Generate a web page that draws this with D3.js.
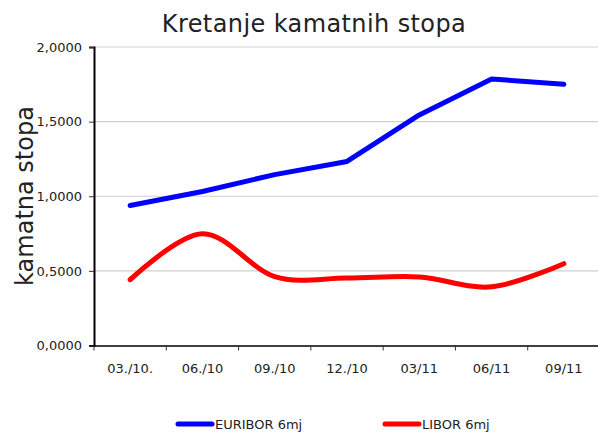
<!DOCTYPE html>
<html>
<head>
<meta charset="utf-8">
<script src="https://cdn.jsdelivr.net/npm/d3@7"></script>
<style>
  body { margin: 0; background: #fff; }
  text { font-family: "DejaVu Sans", sans-serif; fill: #222; }
</style>
</head>
<body>
<script>
const categories = ["03./10.", "06./10", "09./10", "12./10", "03/11", "06/11", "09/11"];
const euribor = [0.938, 1.032, 1.145, 1.233, 1.545, 1.786, 1.750];
const libor = [0.441, 0.749, 0.462, 0.452, 0.459, 0.393, 0.548];
const yTicks = [0, 0.5, 1, 1.5, 2];

const width = 598, height = 433;
const margin = {top: 47, right: 0, bottom: 87, left: 94};

const svg = d3.select("body").append("svg")
  .attr("width", width)
  .attr("height", height);

const x = d3.scaleBand()
  .domain(categories)
  .range([margin.left, 600]);

const y = d3.scaleLinear()
  .domain([0, 2])
  .range([height - margin.bottom - 0.5, margin.top]);

const fmt = d => d3.format(".4f")(d).replace(".", ",");

// grid
svg.append("g")
  .selectAll("line")
  .data(yTicks.slice(1))
  .join("line")
  .attr("x1", margin.left)
  .attr("x2", width)
  .attr("y1", d => y(d))
  .attr("y2", d => y(d))
  .attr("stroke", "#cfcfcf")
  .attr("stroke-width", 1.2);

// y axis
const yAxis = svg.append("g")
  .attr("transform", `translate(${margin.left},0)`)
  .call(d3.axisLeft(y).tickValues(yTicks).tickFormat(fmt).tickSize(5).tickPadding(7));
yAxis.select(".domain").attr("stroke", "#000").attr("stroke-width", 2);
yAxis.selectAll(".tick line").attr("stroke", "#333");
yAxis.selectAll("text").style("font-size", "13px").attr("fill", "#333");

// x axis
const xAxis = svg.append("g")
  .attr("transform", `translate(0,${y(0)})`)
  .call(d3.axisBottom(x).tickSize(0).tickPadding(18));
xAxis.select(".domain").attr("stroke", "#000").attr("stroke-width", 1.5);
xAxis.selectAll("text").style("font-size", "13px").attr("fill", "#333");
xAxis.append("g")
  .selectAll("line")
  .data(categories)
  .join("line")
  .attr("x1", d => x(d))
  .attr("x2", d => x(d))
  .attr("y1", 0)
  .attr("y2", 5)
  .attr("stroke", "#333");

const cx = d => x(d) + x.bandwidth() / 2;

svg.append("path")
  .datum(euribor)
  .attr("fill", "none")
  .attr("stroke", "#0000ff")
  .attr("stroke-width", 5)
  .attr("stroke-linecap", "round")
  .attr("stroke-linejoin", "round")
  .attr("d", d3.line().x((d, i) => cx(categories[i])).y(d => y(d)));

svg.append("path")
  .datum(libor)
  .attr("fill", "none")
  .attr("stroke", "#ff0000")
  .attr("stroke-width", 5)
  .attr("stroke-linecap", "round")
  .attr("d", d3.line().curve(d3.curveCatmullRom.alpha(0)).x((d, i) => cx(categories[i])).y(d => y(d)));

// title
svg.append("text")
  .attr("x", 314)
  .attr("y", 32)
  .attr("text-anchor", "middle")
  .style("font-size", "24px")
  .style("letter-spacing", "0.4px")
  .text("Kretanje kamatnih stopa");

// y label
svg.append("text")
  .attr("transform", `translate(33,196) rotate(-90)`)
  .attr("text-anchor", "middle")
  .style("font-size", "24px")
  .text("kamatna stopa");

// legend
const legend = [
  {name: "EURIBOR 6mj", color: "#0000ff", x: 178},
  {name: "LIBOR 6mj", color: "#ff0000", x: 385}
];
const lg = svg.append("g").selectAll("g").data(legend).join("g")
  .attr("transform", d => `translate(${d.x},424)`);
lg.append("line")
  .attr("x1", 0).attr("x2", 34)
  .attr("stroke", d => d.color)
  .attr("stroke-width", 5)
  .attr("stroke-linecap", "round");
lg.append("text")
  .attr("x", 37)
  .attr("y", 5)
  .style("font-size", "13px")
  .text(d => d.name);
</script>
</body>
</html>
